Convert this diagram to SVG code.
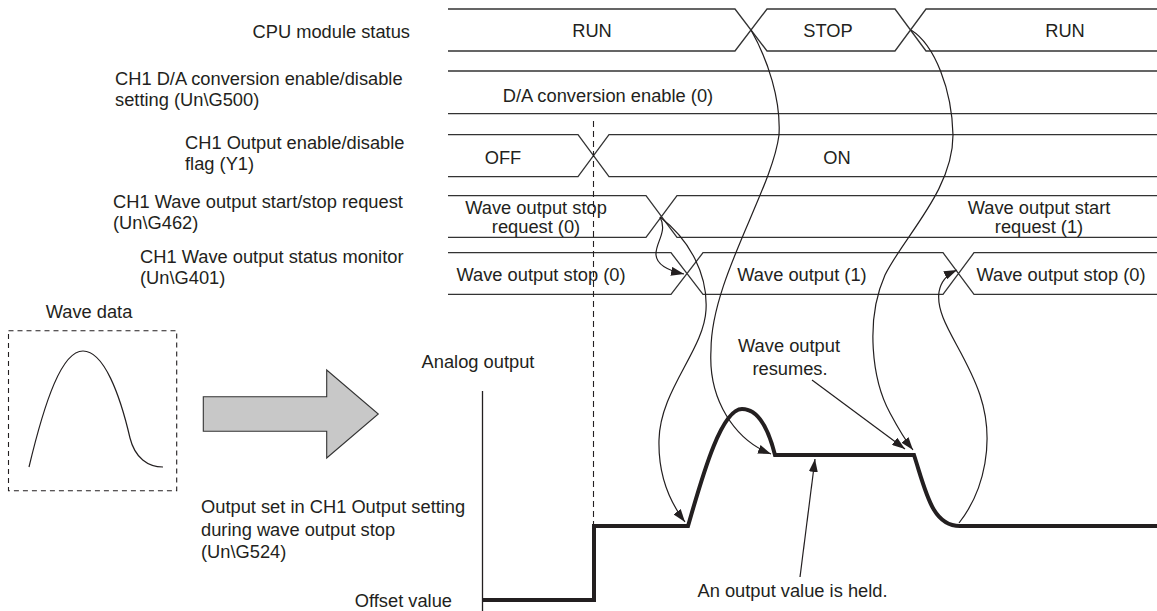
<svg xmlns="http://www.w3.org/2000/svg" width="1157" height="611" viewBox="0 0 1157 611">
<style>
text{font-family:"Liberation Sans",Arial,sans-serif;font-size:18.3px;fill:#231f20}
.m{text-anchor:middle}
.e{text-anchor:end}
.row{fill:none;stroke:#333;stroke-width:1.3}
.thin{fill:none;stroke:#231f20;stroke-width:1.2}
.thick{fill:none;stroke:#231f20;stroke-width:4;stroke-linejoin:miter}
.dash{fill:none;stroke:#231f20;stroke-width:1.1;stroke-dasharray:6,4}
</style>
<defs>
<marker id="ah" viewBox="0 0 13 9" refX="13" refY="4.5" markerWidth="13" markerHeight="9" markerUnits="userSpaceOnUse" orient="auto">
<path d="M0,0 L13,4.5 L0,9 z" fill="#231f20"/>
</marker>
</defs>
<rect width="1157" height="611" fill="#fff"/>

<g id="labels">
<text x="410" y="37.5" class="e">CPU module status</text>
<text x="115" y="85">CH1 D/A conversion enable/disable</text>
<text x="115" y="106">setting (Un\G500)</text>
<text x="185" y="148.5">CH1 Output enable/disable</text>
<text x="185" y="169.5">flag (Y1)</text>
<text x="113" y="208">CH1 Wave output start/stop request</text>
<text x="113" y="229">(Un\G462)</text>
<text x="140" y="263">CH1 Wave output status monitor</text>
<text x="140" y="284">(Un\G401)</text>
</g>

<g id="row-cpu">
<path class="row" d="M448,9 H735 L767,51 H895 L926,9 H1157 M448,51 H735 L767,9 H895 L926,51 H1157"/>
<text x="592" y="36.5" class="m">RUN</text>
<text x="828" y="36.5" class="m">STOP</text>
<text x="1065" y="36.5" class="m">RUN</text>
</g>

<g id="row-da">
<path class="row" d="M448,71 H1157 M448,113.7 H1157"/>
<text x="608" y="102" class="m">D/A conversion enable (0)</text>
</g>

<g id="row-output-flag">
<path class="row" d="M448,134.7 H578 L609,176.7 H1157 M448,176.7 H578 L609,134.7 H1157"/>
<text x="503" y="163.5" class="m">OFF</text>
<text x="837" y="163.5" class="m">ON</text>
</g>

<g id="row-wave-request">
<path class="row" d="M448,195.7 H646 L677,237.3 H1157 M448,237.3 H646 L677,195.7 H1157"/>
<text x="536" y="214" class="m">Wave output stop</text>
<text x="536" y="233" class="m">request (0)</text>
<text x="1039" y="214" class="m">Wave output start</text>
<text x="1039" y="233" class="m">request (1)</text>
</g>

<g id="row-wave-status">
<path class="row" d="M448,252.7 H671 L703,294.3 H943 L974,252.7 H1157 M448,294.3 H671 L703,252.7 H943 L974,294.3 H1157"/>
<text x="541" y="280.5" class="m">Wave output stop (0)</text>
<text x="802" y="280.5" class="m">Wave output (1)</text>
<text x="1061" y="280.5" class="m">Wave output stop (0)</text>
</g>

<g id="wave-data">
<text x="89" y="317.5" class="m">Wave data</text>
<rect x="8.5" y="330.7" width="168.2" height="160" fill="none" stroke="#231f20" stroke-width="1.1" stroke-dasharray="5,4"/>
<path class="thin" d="M29,467 C 45,400 62,351 83,351 C 104,351 120,395 130,438 C 135,458 148,467 163,467"/>
</g>

<g id="big-arrow">
<polygon points="203.3,396.7 326.7,396.7 326.7,370 378.3,414 326.7,458 326.7,431.3 203.3,431.3" fill="#c8c8c8" stroke="#333" stroke-width="1.1"/>
</g>

<g id="analog-output">
<text x="478" y="368" class="m">Analog output</text>
<path fill="none" stroke="#231f20" stroke-width="1.3" d="M482.5,391 V611"/>
<line class="dash" x1="593.5" y1="121" x2="593.5" y2="524"/>
<path class="thick" d="M483,600 H594 V526 H688 C 700,485 720,409 742,409 C 760,409 770,435 775,455 H914 C 926,492 932,526 960,526 H1157"/>
<text x="201" y="513">Output set in CH1 Output setting</text>
<text x="201" y="536">during wave output stop</text>
<text x="201" y="558">(Un\G524)</text>
<text x="452" y="606.5" class="e">Offset value</text>
</g>

<g id="annotations">
<text x="789" y="351.5" class="m">Wave output</text>
<text x="790" y="374.5" class="m">resumes.</text>
<text x="792.5" y="596.5" class="m">An output value is held.</text>
</g>

<g id="connectors">
<path class="thin" marker-end="url(#ah)" d="M751,30 C 768,60 781,100 779,135 C 772,190 711,280 711,350 C 708,400 735,440 771,454"/>
<path class="thin" marker-end="url(#ah)" d="M660,217 C 690,240 708,275 706,310 C 704,350 660,390 659,440 C 658,480 672,505 685,522"/>
<path class="thin" marker-end="url(#ah)" d="M660,217 C 668,232 655,243 656,255 C 657,266 670,271 684,274"/>
<path class="thin" marker-end="url(#ah)" d="M911,30 C 935,45 952,90 953,135 C 953,190 905,235 885,275 C 865,320 872,380 890,413 C 898,428 905,440 913,450"/>
<path class="thin" marker-end="url(#ah)" d="M959,523 C 985,490 995,440 980,395 C 965,350 935,320 939,292 C 941,280 948,274 957,270"/>
<line class="thin" marker-end="url(#ah)" x1="812" y1="380" x2="905" y2="449"/>
<line class="thin" marker-end="url(#ah)" x1="800" y1="577" x2="815" y2="459"/>
</g>
</svg>
